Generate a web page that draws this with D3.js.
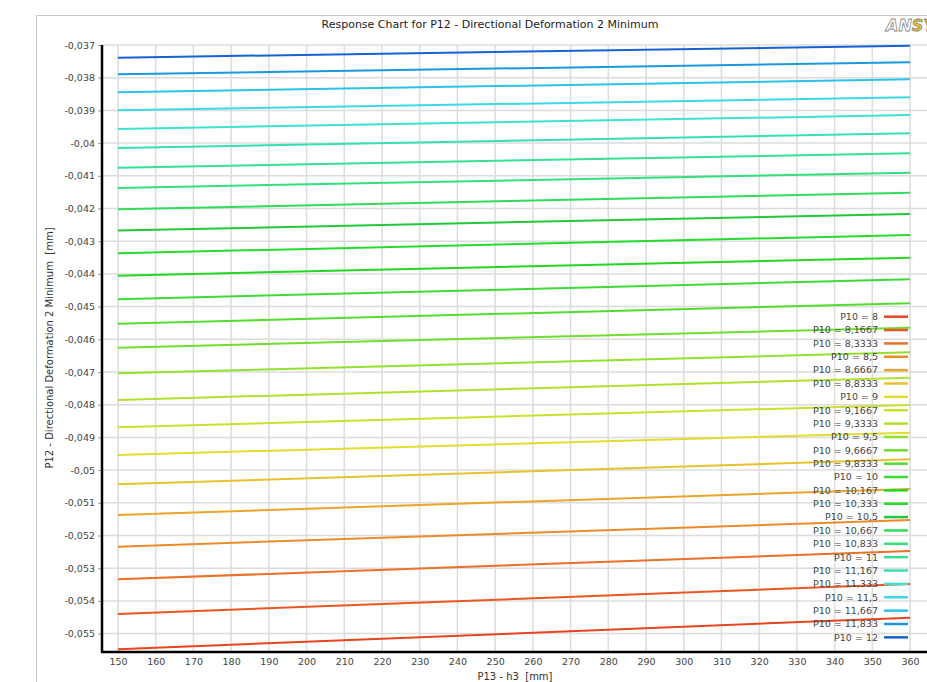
<!DOCTYPE html>
<html>
<head>
<meta charset="utf-8">
<script src="https://cdn.jsdelivr.net/npm/d3@7"></script>
<style>
  body { margin: 0; background: #fff; }
  svg { display: block; font-family: "DejaVu Sans", sans-serif; }
</style>
</head>
<body>
<svg width="927" height="682"></svg>
<script>
const width = 927;
const height = 682;

// P10 parameter values (one line each) and their legend labels
const p10Labels = ["8", "8,1667", "8,3333", "8,5", "8,6667", "8,8333", "9", "9,1667", "9,3333",
    "9,5", "9,6667", "9,8333", "10", "10,167", "10,333", "10,5", "10,667", "10,833",
    "11", "11,167", "11,333", "11,5", "11,667", "11,833", "12"];

// P13 - h3 end points of each response line
const h3Values = [150, 360];

// P12 at h3 = 150 and h3 = 360, same order as p10Labels
const p12At150 = [-0.05548, -0.0544, -0.05334, -0.052343, -0.051373, -0.050434, -0.049538, -0.048691,
    -0.047856, -0.04704, -0.046257, -0.045523, -0.044777, -0.044055, -0.04337, -0.042673,
    -0.042024, -0.041373, -0.040752, -0.04015, -0.039569, -0.038997, -0.038446, -0.037896, -0.037388];
const p12At360 = [-0.054514, -0.053483, -0.052474, -0.051526, -0.050578, -0.04967, -0.048856, -0.048009,
    -0.047174, -0.046398, -0.045645, -0.044899, -0.044165, -0.043505, -0.04281, -0.042168,
    -0.041517, -0.040905, -0.040312, -0.0397, -0.039141, -0.038599, -0.038049, -0.037529, -0.037021];

const lineColors = ["#e8441e", "#e95822", "#ec7026", "#ee8a28", "#eca42a", "#e8c22c", "#e2dc2e", "#cce02e",
    "#b2e02e", "#94e02e", "#70de2e", "#52de2e", "#3cdc34", "#22d822", "#26dc2a", "#22c83a",
    "#30dc5c", "#34e07a", "#36e096", "#36e0b2", "#3ce2d2", "#3cd8e8", "#2cc2ea", "#1c98e2", "#1462d4"];

const xTicks = [150, 160, 170, 180, 190, 200, 210, 220, 230, 240, 250, 260, 270, 280, 290, 300,
    310, 320, 330, 340, 350, 360];
const yTicks = [-0.037, -0.038, -0.039, -0.04, -0.041, -0.042, -0.043, -0.044, -0.045, -0.046,
    -0.047, -0.048, -0.049, -0.05, -0.051, -0.052, -0.053, -0.054, -0.055];

const commaLocale = d3.formatLocale({decimal: ",", thousands: ".", grouping: [3], currency: ["", ""], minus: "-"});
const fmt = commaLocale.format("~g");

const svg = d3.select("svg");

// outer frame
svg.append("path")
    .attr("d", `M36.5,${height} V15.5 H${width}`)
    .attr("fill", "none")
    .attr("stroke", "#c8c8c8")
    .attr("stroke-width", 1);

svg.append("text")
    .attr("x", 490)
    .attr("y", 28)
    .attr("text-anchor", "middle")
    .attr("font-size", 11)
    .attr("fill", "#222")
    .text("Response Chart for P12 - Directional Deformation 2 Minimum");

// logo, cut off at the right edge
svg.append("text")
    .attr("x", 886)
    .attr("y", 31)
    .attr("font-size", 16)
    .attr("font-weight", "bold")
    .attr("font-style", "italic")
    .attr("stroke", "#888")
    .attr("stroke-width", 0.8)
    .call(t => {
        t.append("tspan").attr("fill", "#fff").text("AN");
        t.append("tspan").attr("fill", "#e8c020").text("SYS");
    });

const x = d3.scaleLinear().domain([145.76, 364.5]).range([102, 927]);
const y = d3.scaleLinear().domain([-0.055563, -0.037]).range([652, 45]);

// grid
const grid = svg.append("g").attr("stroke", "#dcdcdc").attr("stroke-width", 1.5);
grid.selectAll(".gx").data(xTicks).join("line")
    .attr("x1", d => x(d)).attr("x2", d => x(d))
    .attr("y1", 45).attr("y2", 652);
grid.selectAll(".gy").data(yTicks).join("line")
    .attr("x1", 102).attr("x2", width)
    .attr("y1", d => y(d)).attr("y2", d => y(d));

// response lines
const series = p10Labels.map((label, i) => ({
    label,
    color: lineColors[i],
    points: h3Values.map((h, j) => [h, j === 0 ? p12At150[i] : p12At360[i]])
}));

const line = d3.line().x(d => x(d[0])).y(d => y(d[1]));

svg.append("g").selectAll("path").data(series).join("path")
    .attr("d", d => line(d.points))
    .attr("fill", "none")
    .attr("stroke", d => d.color)
    .attr("stroke-width", 2);

// axes
const yAxis = svg.append("g")
    .attr("transform", "translate(102,0)")
    .call(d3.axisLeft(y).tickValues(yTicks).tickFormat(fmt).tickSize(4).tickPadding(3));
const xAxis = svg.append("g")
    .attr("transform", "translate(0,652)")
    .call(d3.axisBottom(x).tickValues(xTicks).tickFormat(d3.format("d")).tickSize(0).tickPadding(6));

[yAxis, xAxis].forEach(a => {
    a.select(".domain").remove();
    a.selectAll(".tick line").attr("stroke", "#999");
    a.selectAll(".tick text")
        .attr("fill", "#444")
        .attr("font-size", 9.5)
        .attr("font-family", "DejaVu Sans, sans-serif");
});

svg.append("line")
    .attr("x1", 102).attr("x2", 102).attr("y1", 45).attr("y2", 653)
    .attr("stroke", "#000").attr("stroke-width", 2.5);
svg.append("line")
    .attr("x1", 101).attr("x2", width).attr("y1", 652).attr("y2", 652)
    .attr("stroke", "#000").attr("stroke-width", 2.5);

svg.append("text")
    .attr("transform", "translate(53,348) rotate(-90)")
    .attr("text-anchor", "middle")
    .attr("font-size", 10)
    .attr("fill", "#333")
    .attr("xml:space", "preserve")
    .text("P12 - Directional Deformation 2 Minimum  [mm]");

svg.append("text")
    .attr("x", 515)
    .attr("y", 680)
    .attr("text-anchor", "middle")
    .attr("font-size", 10)
    .attr("fill", "#333")
    .attr("xml:space", "preserve")
    .text("P13 - h3  [mm]");

// legend
const legend = svg.append("g");
const rows = legend.selectAll("g").data(series).join("g")
    .attr("transform", (d, i) => `translate(0,${316.7 + i * 13.36})`);
rows.append("text")
    .attr("x", 878)
    .attr("dy", "0.35em")
    .attr("text-anchor", "end")
    .attr("font-size", 9.5)
    .attr("fill", "#444")
    .text(d => "P10 = " + d.label);
rows.append("line")
    .attr("x1", 884).attr("x2", 908)
    .attr("stroke", d => d.color)
    .attr("stroke-width", 2.5);
</script>
</body>
</html>
